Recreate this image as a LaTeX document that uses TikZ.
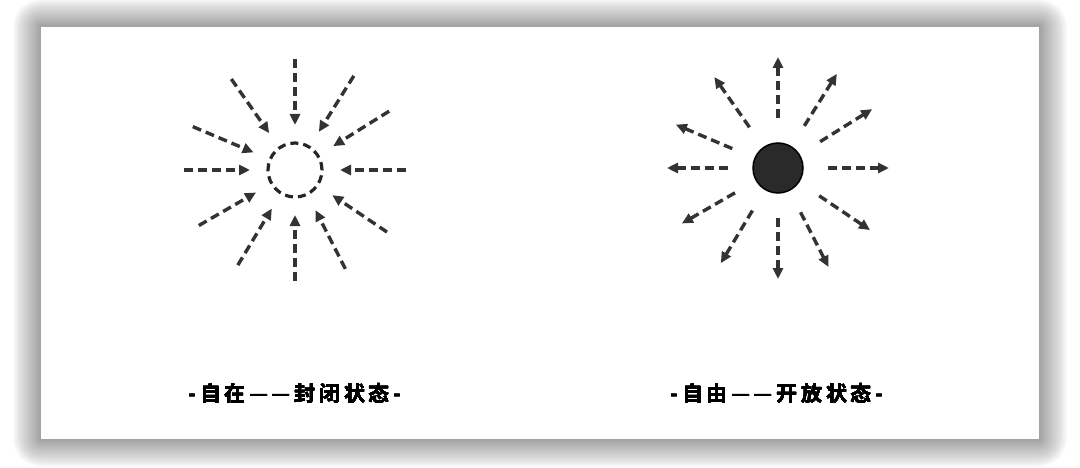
\documentclass[tikz,border=0pt]{standalone}
\usepackage{fontspec}
\newfontfamily\cjk{Noto Sans CJK SC Bold}[LetterSpace=18]
\usetikzlibrary{arrows.meta,calc}
\definecolor{ink}{HTML}{333333}
\definecolor{core}{HTML}{2A2A2A}
\newcommand{\Ray}[4]% center, angle, name, style
{\coordinate (#3o) at ($(#1)+(#2:111)$);
  \coordinate (#3i) at ($(#1)+(#2:45)$);
  \draw[#4] (#3o) -- (#3i);
}
\newcommand{\Dashes}{—\hspace{3pt}—}
\tikzset{
  ray/.style={ink,line width=3.4pt,dash pattern=on 9pt off 5pt},
  inray/.style={ray,-{Triangle[length=11pt,width=10pt]}},
  outray/.style={ray,{Triangle[length=11pt,width=10pt]}-},
  caption/.style={font=\cjk\fontsize{21}{23}\selectfont,text=black}
}

\begin{document}
\begin{tikzpicture}[x=1pt,y=1pt]
  \useasboundingbox (0,0) rectangle (1080,467);
  % card and its shadow
  \foreach \i in {1,...,28}
    \fill[black,opacity=0.015,rounded corners=\i pt] (41-\i,28-\i) rectangle (1039+\i,440+\i);
  \fill[white] (41,28) rectangle (1039,440);

  % closed state
  \node[circle,draw=black!85,line width=3.2pt,dash pattern=on 8pt off 5pt,minimum size=54pt,inner sep=0] (closed) at (295,297) {};
  \foreach \a [count=\n] in {90,58,32,0,-34,-63,-90,-121,-150,180,157,125}
    \Ray{closed}{\a}{c\n}{inray}
  \node[caption] (closedtext) at (295,74) {-自在\Dashes 封闭状态-};

  % open state
  \node[circle,draw=black,fill=core,line width=1.5pt,minimum size=50pt,inner sep=0] (open) at (778,299) {};
  \foreach \a [count=\n] in {90,58,32,0,-34,-63,-90,-121,-150,180,157,125}
    \Ray{open}{\a}{o\n}{outray}
  \node[caption] (opentext) at (777,74) {-自由\Dashes 开放状态-};
\end{tikzpicture}
\end{document}
